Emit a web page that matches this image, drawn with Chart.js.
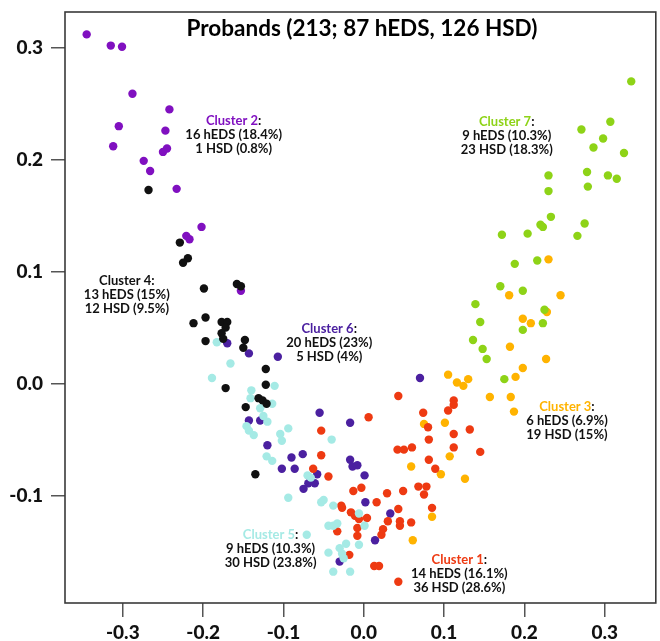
<!DOCTYPE html>
<html>
<head>
<meta charset="utf-8">
<script src="https://cdn.jsdelivr.net/npm/chart.js@4.4.1/dist/chart.umd.min.js"></script>
<style>
html,body{margin:0;padding:0;background:#fff;}
canvas{display:block;}
</style>
</head>
<body>
<canvas id="chart" width="660" height="641"></canvas>
<script>
/* ============================================================
   DATA
   ============================================================ */
var TITLE='Probands (213; 87 hEDS, 126 HSD)';
var X_TICKS=[-0.3,-0.2,-0.1,0.0,0.1,0.2,0.3];
var Y_TICKS=[-0.1,0.0,0.1,0.2,0.3];

var clusterNames=['Cluster 1','Cluster 2','Cluster 3','Cluster 4','Cluster 5','Cluster 6','Cluster 7'];
var hedsText=['14 hEDS (16.1%)','16 hEDS (18.4%)','6 hEDS (6.9%)','13 hEDS (15%)','9 hEDS (10.3%)','20 hEDS (23%)','9 hEDS (10.3%)'];
var hsdText=['36 HSD (28.6%)','1 HSD (0.8%)','19 HSD (15%)','12 HSD (9.5%)','30 HSD (23.8%)','5 HSD (4%)','23 HSD (18.3%)'];

var c1x=[0.006,-0.053,-0.053,-0.063,-0.044,-0.013,-0.003,-0.027,-0.016,-0.011,0.004,-0.033,-0.008,-0.008,-0.018,0.013,0.019,0.016,0.022,
  0.043,0.112,0.112,0.105,0.074,0.080,0.112,0.132,0.081,0.042,0.050,0.060,0.112,0.145,0.081,0.089,0.029,0.049,0.068,0.078,0.075,0.043,0.085,0.030,0.045,0.045,0.059,0.024,0.043,-0.006,-0.028];
var c1y=[-0.030,-0.042,-0.064,-0.076,-0.083,-0.096,-0.093,-0.111,-0.115,-0.118,-0.120,-0.132,-0.129,-0.136,-0.153,-0.163,-0.163,-0.106,-0.135,
  -0.011,-0.015,-0.019,-0.024,-0.026,-0.039,-0.045,-0.041,-0.050,-0.059,-0.059,-0.057,-0.057,-0.061,-0.068,-0.076,-0.098,-0.096,-0.092,-0.092,-0.099,-0.112,-0.111,-0.123,-0.123,-0.127,-0.124,-0.130,-0.177,-0.121,-0.109];

var c2x=[-0.345,-0.315,-0.301,-0.288,-0.242,-0.305,-0.247,-0.312,-0.245,-0.250,-0.274,-0.266,-0.233,-0.202,-0.221,-0.217,-0.153];
var c2y=[0.312,0.302,0.301,0.259,0.245,0.230,0.226,0.212,0.210,0.207,0.199,0.190,0.174,0.140,0.132,0.129,0.083];

var c3x=[0.230,0.181,0.245,0.228,0.198,0.208,0.182,0.227,0.198,0.189,0.105,0.116,0.130,0.124,0.157,0.183,0.187,0.075,0.101,0.107,0.059,0.096,0.126,0.085,0.061];
var c3y=[0.111,0.079,0.079,0.064,0.058,0.054,0.033,0.022,0.014,0.006,0.008,0.001,0.004,-0.002,-0.012,-0.012,-0.025,-0.036,-0.035,-0.065,-0.074,-0.081,-0.085,-0.119,-0.140];

var c4x=[-0.268,-0.229,-0.219,-0.225,-0.199,-0.158,-0.153,-0.212,-0.197,-0.177,-0.170,-0.172,-0.177,-0.175,-0.197,-0.148,-0.150,-0.122,-0.122,-0.172,-0.147,-0.131,-0.126,-0.121,-0.135];
var c4y=[0.173,0.126,0.112,0.108,0.085,0.089,0.087,0.054,0.059,0.055,0.055,0.050,0.045,0.040,0.038,0.039,0.032,0.013,-0.001,-0.004,-0.021,-0.013,-0.015,-0.018,-0.081];

var c5x=[-0.183,-0.166,-0.189,-0.111,-0.140,-0.141,-0.114,-0.129,-0.125,-0.120,-0.146,-0.143,-0.137,-0.104,-0.094,-0.102,-0.121,-0.114,-0.040,-0.070,
  -0.066,-0.094,-0.050,-0.053,-0.038,-0.006,-0.044,-0.038,-0.033,0.001,-0.071,-0.006,-0.022,-0.030,-0.027,-0.044,-0.025,-0.038,-0.017];
var c5y=[0.037,0.018,0.005,-0.002,-0.006,-0.013,-0.018,-0.022,-0.029,-0.034,-0.038,-0.042,-0.046,-0.045,-0.040,-0.051,-0.065,-0.069,-0.050,-0.082,
  -0.084,-0.102,-0.104,-0.106,-0.109,-0.116,-0.127,-0.127,-0.125,-0.127,-0.135,-0.144,-0.143,-0.147,-0.152,-0.151,-0.156,-0.168,-0.168];

var c6x=[-0.170,-0.143,-0.107,-0.143,-0.129,-0.120,-0.090,-0.076,-0.102,-0.086,-0.055,-0.017,-0.017,-0.014,-0.008,0.001,-0.058,-0.069,-0.075,-0.061,0.002,0.014,-0.030,0.070,0.033];
var c6y=[0.036,0.027,0.024,-0.033,-0.033,-0.055,-0.066,-0.063,-0.076,-0.076,-0.026,-0.035,-0.068,-0.074,-0.073,-0.082,-0.081,-0.089,-0.094,-0.089,-0.106,-0.140,-0.159,0.005,-0.116];

var c7x=[0.333,0.307,0.271,0.298,0.286,0.324,0.230,0.278,0.304,0.315,0.230,0.279,0.233,0.220,0.223,0.275,0.266,0.172,0.204,0.188,0.216,0.170,0.198,0.139,0.145,0.225,0.223,0.198,0.136,0.148,0.153,0.175];
var c7y=[0.270,0.234,0.227,0.219,0.211,0.206,0.186,0.189,0.186,0.183,0.172,0.176,0.149,0.142,0.140,0.143,0.132,0.133,0.134,0.107,0.110,0.087,0.083,0.071,0.055,0.066,0.054,0.048,0.039,0.031,0.022,0.004];

/* ============================================================
   STYLE
   ============================================================ */
var COLORS=['#ee3a12','#8010c0','#ffb300','#111111','#a5eae5','#4b20a0','#8ed317'];
// drawing order: lower order = drawn on top
var DRAW_ORDER=[3,1,5,0,2,6,4];
// label anchor (centre of first line) in data units
var LABEL_POS=[[0.119,-0.157],[-0.162,0.235],[0.253,-0.021],[-0.295,0.092],[-0.116,-0.135],[-0.043,0.049],[0.178,0.234]];
var FONT='Lato, "Open Sans", sans-serif';

function pts(xs,ys){return xs.map(function(x,i){return {x:x,y:ys[i]};});}
var series=[[c1x,c1y],[c2x,c2y],[c3x,c3y],[c4x,c4y],[c5x,c5y],[c6x,c6y],[c7x,c7y]];

var datasets=series.map(function(s,i){
    return {label:clusterNames[i],data:pts(s[0],s[1]),backgroundColor:COLORS[i],borderWidth:0,pointRadius:4.2,pointHoverRadius:4.2,order:DRAW_ORDER[i]};
});

/* ============================================================
   PLUGINS
   ============================================================ */
var framePlugin={
    id:'frame',
    afterDraw:function(chart){
        var a=chart.chartArea,ctx=chart.ctx;
        ctx.save();
        ctx.strokeStyle='#3a3a3a';ctx.lineWidth=1.6;
        ctx.strokeRect(a.left,a.top,a.right-a.left,a.bottom-a.top);
        // title
        ctx.fillStyle='#000';ctx.font='bold 22.5px '+FONT;
        ctx.textAlign='center';ctx.textBaseline='middle';
        ctx.fillText(TITLE,362,29);
        ctx.restore();
    }
};

var labelPlugin={
    id:'clusterLabels',
    afterDatasetsDraw:function(chart){
        var ctx=chart.ctx,xs=chart.scales.x,ys=chart.scales.y;
        ctx.save();
        ctx.font='bold 13px '+FONT;ctx.textBaseline='middle';
        LABEL_POS.forEach(function(p,i){
            var cx=xs.getPixelForValue(p[0]),cy=ys.getPixelForValue(p[1]);
            var name=clusterNames[i],w1=ctx.measureText(name).width,w2=ctx.measureText(':').width;
            var left=cx-(w1+w2)/2;
            ctx.textAlign='left';
            ctx.fillStyle=COLORS[i];ctx.fillText(name,left,cy);
            ctx.fillStyle='#111';ctx.fillText(':',left+w1,cy);
            ctx.textAlign='center';
            ctx.fillText(hedsText[i],cx,cy+14);
            ctx.fillText(hsdText[i],cx,cy+28);
        });
        ctx.restore();
    }
};

function noPad(s){s.paddingTop=0;s.paddingBottom=0;s.paddingLeft=0;s.paddingRight=0;}

/* ============================================================
   CHART
   ============================================================ */
new Chart(document.getElementById('chart'),{
    type:'scatter',
    data:{datasets:datasets},
    options:{
        responsive:false,animation:false,
        layout:{padding:{top:12,right:3,left:0,bottom:0}},
        plugins:{legend:{display:false},tooltip:{enabled:false}},
        scales:{
            x:{
                type:'linear',min:-0.372,max:0.3636,
                afterFit:function(s){s.height=38;noPad(s);},
                afterBuildTicks:function(s){s.ticks=X_TICKS.map(function(v){return {value:v};});},
                grid:{drawOnChartArea:false,drawTicks:true,tickLength:14,color:'#555',lineWidth:1.5},
                border:{display:false},
                ticks:{padding:4,color:'#111',font:{family:FONT,size:19,weight:'900'},maxRotation:0,
                    callback:function(v){return v.toFixed(1);}}
            },
            y:{
                type:'linear',min:-0.196,max:0.332,
                afterFit:function(s){s.width=65;noPad(s);},
                afterBuildTicks:function(s){s.ticks=Y_TICKS.map(function(v){return {value:v};});},
                grid:{drawOnChartArea:false,drawTicks:true,tickLength:14,color:'#555',lineWidth:1.5},
                border:{display:false},
                ticks:{padding:8,color:'#111',font:{family:FONT,size:19,weight:'900'},
                    callback:function(v){return v.toFixed(1);}}
            }
        }
    },
    plugins:[framePlugin,labelPlugin]
});
</script>
</body>
</html>
